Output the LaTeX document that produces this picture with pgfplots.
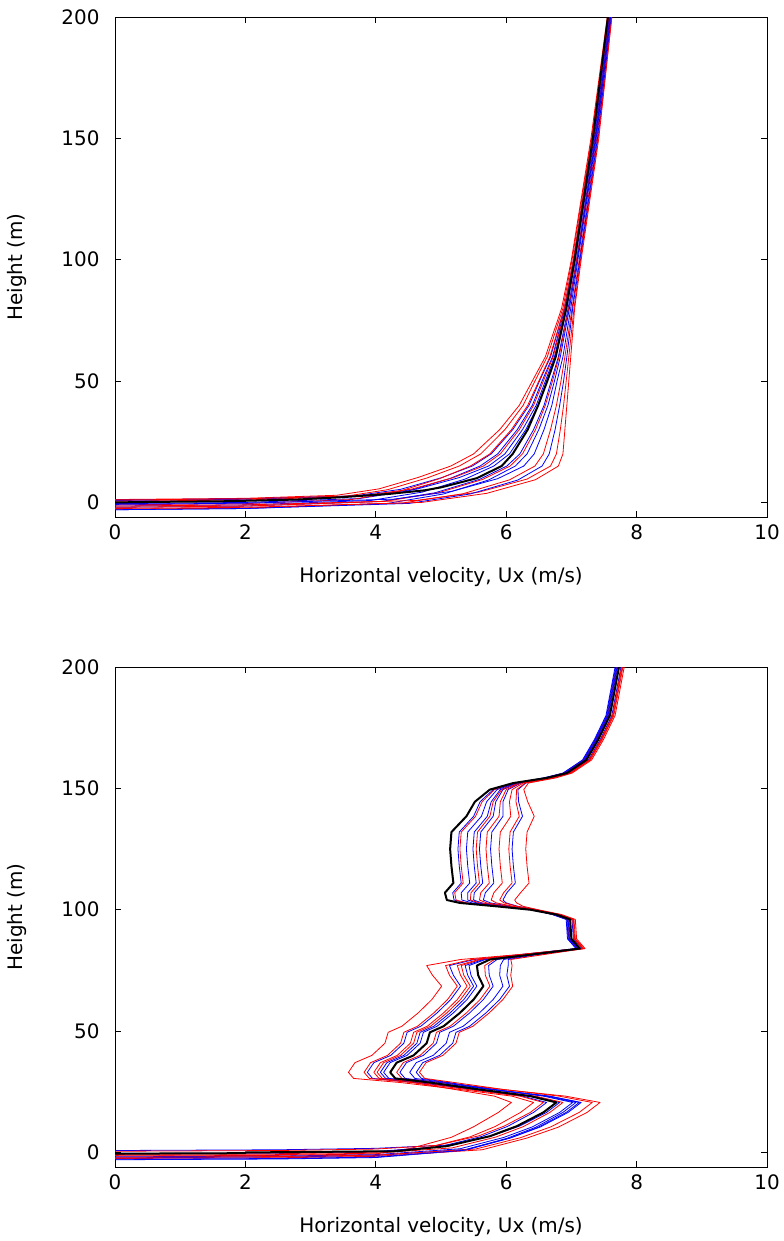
\documentclass[border=0pt]{standalone}
\usepackage{fontspec}
\setmainfont{DejaVu Sans}
\usepackage{pgfplots}
\pgfplotsset{compat=1.18}
\pgfplotsset{
  panel/.style={
    width=652bp, height=500bp, scale only axis,
    xmin=0, xmax=10, ymin=-6, ymax=200,
    xtick={0,2,...,10}, ytick={0,50,...,200},
    tick align=inside, major tick length=6bp,
    axis line style={line width=0.8bp},
    every tick/.style={black, line width=0.8bp},
    /pgf/number format/assume math mode=true,
    tick label style={font=\fontsize{20}{23}\selectfont},
    label style={font=\fontsize{20}{23}\selectfont},
    xticklabel style={yshift=-4bp},
    yticklabel style={xshift=-12bp},
    xlabel={Horizontal velocity, Ux (m/s)},
    ylabel={Height (m)},
    xlabel style={at={([yshift=-60bp]rel axis cs:0.5,0)}, anchor=center},
    ylabel style={at={([xshift=-98bp]rel axis cs:0,0.5)}, anchor=center},
    clip=true,
  },
  rl/.style={draw=red, line width=0.8bp, mark=none, line join=round},
  bl/.style={draw=blue, line width=0.8bp, mark=none, line join=round},
  kl/.style={draw=black, line width=2bp, mark=none, line join=round},
}
\begin{document}
\begin{tikzpicture}
\path[use as bounding box] (0,0) rectangle (784bp,-1241bp);
% ---------------- top panel ----------------
\begin{axis}[panel, at={(115bp,-517bp)}, anchor=south west]
\addplot[bl] coordinates {(0,0.8)(2,1.3)(3.66,2.64)(4.38,5.4)(5.01,10.2)(5.48,15)(5.77,20)(6.10,30)(6.35,40)(6.51,50)(6.68,60)(6.89,80)(7.03,100)(7.32,150)(7.56,200)};
\addplot[rl] coordinates {(0,1.2)(2,1.7)(3.40,2.96)(4.05,5.6)(4.65,10.3)(5.15,15)(5.50,20)(5.90,30)(6.20,40)(6.40,50)(6.60,60)(6.85,80)(7.00,100)(7.30,150)(7.55,200)};
\addplot[bl] coordinates {(0,-0.5)(2,0)(3.75,1.6)(4.50,4.75)(5.14,9.88)(5.60,15)(5.87,20)(6.17,30)(6.40,40)(6.55,50)(6.71,60)(6.90,80)(7.04,100)(7.33,150)(7.57,200)};
\addplot[rl] coordinates {(0,0.5)(2,1.0)(3.50,2.4)(4.18,5.25)(4.79,10.13)(5.28,15)(5.61,20)(5.98,30)(6.26,40)(6.44,50)(6.63,60)(6.87,80)(7.01,100)(7.31,150)(7.56,200)};
\addplot[bl] coordinates {(0,1)(2,1.5)(3.86,2.8)(4.63,5.5)(5.28,10.25)(5.73,15)(5.98,20)(6.25,30)(6.46,40)(6.60,50)(6.74,60)(6.92,80)(7.05,100)(7.34,150)(7.57,200)};
\addplot[rl] coordinates {(0,-1)(2,-0.5)(3.63,1.2)(4.35,4.5)(4.97,9.75)(5.45,15)(5.75,20)(6.08,30)(6.33,40)(6.50,50)(6.67,60)(6.89,80)(7.03,100)(7.32,150)(7.56,200)};
\addplot[bl] coordinates {(0,-1.5)(2,-1.0)(3.92,0.8)(4.71,4.25)(5.37,9.63)(5.81,15)(6.05,20)(6.30,30)(6.49,40)(6.62,50)(6.76,60)(6.93,80)(7.06,100)(7.35,150)(7.58,200)};
\addplot[rl] coordinates {(0,1)(2,1.5)(3.79,2.8)(4.55,5.5)(5.19,10.25)(5.65,15)(5.91,20)(6.20,30)(6.42,40)(6.57,50)(6.72,60)(6.91,80)(7.05,100)(7.34,150)(7.57,200)};
\addplot[bl] coordinates {(0,-2)(2,-1.5)(4.08,0.4)(4.91,4)(5.59,9.5)(6.01,15)(6.21,20)(6.42,30)(6.58,40)(6.69,50)(6.80,60)(6.95,80)(7.08,100)(7.36,150)(7.59,200)};
\addplot[rl] coordinates {(0,-2)(2,-1.5)(4.12,0.4)(4.96,4)(5.64,9.5)(6.06,15)(6.25,20)(6.45,30)(6.60,40)(6.71,50)(6.81,60)(6.96,80)(7.08,100)(7.37,150)(7.59,200)};
\addplot[bl] coordinates {(0,-3)(2,-2.5)(4.18,-0.4)(5.04,3.5)(5.73,9.25)(6.14,15)(6.32,20)(6.50,30)(6.64,40)(6.74,50)(6.83,60)(6.97,80)(7.09,100)(7.37,150)(7.59,200)};
\addplot[rl] coordinates {(0,-2.8)(2,-2.3)(4.41,-0.24)(5.34,3.6)(6.05,9.3)(6.44,15)(6.57,20)(6.68,30)(6.77,40)(6.84,50)(6.90,60)(7.01,80)(7.12,100)(7.39,150)(7.60,200)};
\addplot[bl] coordinates {(0,-0.8)(2,-0.3)(4.28,1.36)(5.17,4.6)(5.87,9.8)(6.27,15)(6.43,20)(6.58,30)(6.70,40)(6.78,50)(6.87,60)(6.99,80)(7.10,100)(7.38,150)(7.60,200)};
\addplot[rl] coordinates {(0,-1.5)(2,-1.0)(4.61,0.8)(5.58,4.25)(6.32,9.63)(6.68,15)(6.77,20)(6.83,30)(6.88,40)(6.92,50)(6.96,60)(7.04,80)(7.14,100)(7.41,150)(7.62,200)};
\addplot[bl] coordinates {(0,-3)(2,-2.5)(4.51,-0.4)(5.45,3.5)(6.18,9.25)(6.55,15)(6.66,20)(6.75,30)(6.82,40)(6.88,50)(6.93,60)(7.02,80)(7.13,100)(7.40,150)(7.61,200)};
\addplot[rl] coordinates {(0,-2.5)(2,-2.0)(4.70,0)(5.70,3.75)(6.45,9.38)(6.80,15)(6.87,20)(6.90,30)(6.93,40)(6.96,50)(6.99,60)(7.05,80)(7.15,100)(7.42,150)(7.62,200)};
\addplot[kl] coordinates {(0,0)(0.5,0.2)(1.7,0.5)(2.8,1.2)(3.5,2.2)(4.2,3.5)(4.75,5)(5.0,6.2)(5.55,10)(5.93,15)(6.1,20)(6.33,30)(6.49,40)(6.63,50)(6.76,60)(6.92,80)(7.05,100)(7.33,150)(7.56,200)};
\end{axis}
% ---------------- bottom panel ----------------
\begin{axis}[panel, at={(115bp,-1167bp)}, anchor=south west]
\addplot[bl] coordinates {(0,-3)(2.5,-2.7)(4,-2.1)(5.33,0.8)(6.01,5.8)(6.45,10.35)(6.87,16.5)(7.07,20.6)(6.61,23.2)(5.81,25.9)(5.07,28.8)(4.60,30.5)(4.52,33)(4.62,37)(4.88,40)(5.08,45)(5.13,49.5)(5.34,52)(5.59,57.5)(5.80,63)(5.95,68.5)(5.90,73)(5.91,77)(5.96,79.5)(6.41,81.5)(7.08,84)(6.95,88)(6.93,96)(6.72,98)(6.47,100)(6.18,101.4)(6.00,102.8)(5.95,104)(6.01,107)(6.14,111)(6.11,118)(6.09,125)(6.11,132)(6.25,138.5)(6.19,144.5)(6.18,149.5)(6.30,152.2)(6.62,154.3)(6.88,156.3)(7.18,161.7)(7.36,170)(7.54,180)(7.68,200)};
\addplot[rl] coordinates {(0,-1.5)(2.5,-1.2)(4,-0.6)(4.54,1.7)(5.16,6.25)(5.50,10.58)(5.88,16.5)(6.08,20.6)(5.82,23.2)(5.22,25.9)(4.57,28.8)(4.10,30.5)(4.02,33)(4.12,37)(4.38,40)(4.58,45)(4.63,49.5)(4.84,52)(5.09,57.5)(5.30,63)(5.45,68.5)(5.35,73)(5.31,77)(5.61,79.5)(6.36,81.5)(7.18,84)(7.05,88)(7.03,96)(6.82,98)(6.46,100)(6.17,101.4)(5.97,102.8)(5.90,104)(5.96,107)(6.09,111)(6.06,118)(6.04,125)(6.06,132)(6.20,138.5)(6.15,144.5)(6.16,149.5)(6.29,152.2)(6.72,154.3)(6.98,156.3)(7.28,161.7)(7.46,170)(7.64,180)(7.78,200)};
\addplot[bl] coordinates {(0,-2.2)(2.5,-1.9)(4,-1.3)(5.39,1.28)(6.07,6.04)(6.52,10.47)(6.95,16.5)(7.15,20.6)(6.67,23.2)(5.77,25.9)(4.85,28.8)(4.20,30.5)(4.12,33)(4.22,37)(4.48,40)(4.68,45)(4.73,49.5)(4.94,52)(5.19,57.5)(5.40,63)(5.55,68.5)(5.46,73)(5.43,77)(5.68,79.5)(6.30,81.5)(7.09,84)(6.96,88)(6.94,96)(6.73,98)(6.42,100)(6.01,101.4)(5.63,102.8)(5.50,104)(5.51,107)(5.64,111)(5.61,118)(5.59,125)(5.61,132)(5.80,138.5)(5.84,144.5)(5.95,149.5)(6.20,152.2)(6.60,154.3)(6.89,156.3)(7.19,161.7)(7.37,170)(7.55,180)(7.69,200)};
\addplot[rl] coordinates {(0,-2.5)(2.5,-2.2)(4,-1.6)(5.63,1.1)(6.32,5.95)(6.80,10.43)(7.24,16.5)(7.44,20.6)(6.91,23.2)(5.96,25.9)(5.02,28.8)(4.40,30.5)(4.32,33)(4.42,37)(4.68,40)(4.88,45)(4.93,49.5)(5.14,52)(5.39,57.5)(5.60,63)(5.75,68.5)(5.68,73)(5.67,77)(5.82,79.5)(6.48,81.5)(7.21,84)(7.08,88)(7.06,96)(6.85,98)(6.49,100)(6.26,101.4)(6.16,102.8)(6.13,104)(6.22,107)(6.35,111)(6.32,118)(6.30,125)(6.32,132)(6.43,138.5)(6.33,144.5)(6.27,149.5)(6.34,152.2)(6.76,154.3)(7.01,156.3)(7.31,161.7)(7.49,170)(7.67,180)(7.81,200)};
\addplot[bl] coordinates {(0,0.8)(2.5,1.1)(4,1.7)(5.13,3.08)(5.79,6.94)(6.21,10.92)(6.62,16.5)(6.82,20.6)(6.41,23.2)(5.56,25.9)(4.63,28.8)(3.95,30.5)(3.87,33)(3.97,37)(4.23,40)(4.43,45)(4.48,49.5)(4.69,52)(4.94,57.5)(5.15,63)(5.30,68.5)(5.19,73)(5.13,77)(5.51,79.5)(6.21,81.5)(7.07,84)(6.94,88)(6.92,96)(6.71,98)(6.38,100)(5.89,101.4)(5.38,102.8)(5.20,104)(5.18,107)(5.31,111)(5.28,118)(5.26,125)(5.28,132)(5.50,138.5)(5.60,144.5)(5.80,149.5)(6.13,152.2)(6.57,154.3)(6.87,156.3)(7.17,161.7)(7.35,170)(7.53,180)(7.67,200)};
\addplot[rl] coordinates {(0,-0.8)(2.5,-0.5)(4,0.1)(4.81,2.12)(5.45,6.46)(5.83,10.68)(6.22,16.5)(6.42,20.6)(6.09,23.2)(5.30,25.9)(4.38,28.8)(3.66,30.5)(3.58,33)(3.68,37)(3.94,40)(4.14,45)(4.19,49.5)(4.40,52)(4.65,57.5)(4.86,63)(5.01,68.5)(4.87,73)(4.78,77)(5.30,79.5)(6.18,81.5)(7.13,84)(7.00,88)(6.98,96)(6.77,98)(6.39,100)(5.90,101.4)(5.40,102.8)(5.23,104)(5.21,107)(5.34,111)(5.31,118)(5.29,125)(5.31,132)(5.53,138.5)(5.63,144.5)(5.82,149.5)(6.14,152.2)(6.63,154.3)(6.93,156.3)(7.23,161.7)(7.41,170)(7.59,180)(7.73,200)};
\addplot[bl] coordinates {(0,-1.8)(2.5,-1.5)(4,-0.9)(5.29,1.52)(5.96,6.16)(6.40,10.53)(6.82,16.5)(7.02,20.6)(6.57,23.2)(5.81,25.9)(5.12,28.8)(4.70,30.5)(4.62,33)(4.72,37)(4.98,40)(5.18,45)(5.23,49.5)(5.44,52)(5.69,57.5)(5.90,63)(6.05,68.5)(6.01,73)(6.03,77)(6.03,79.5)(6.47,81.5)(7.11,84)(6.98,88)(6.96,96)(6.75,98)(6.43,100)(6.07,101.4)(5.76,102.8)(5.65,104)(5.68,107)(5.81,111)(5.78,118)(5.76,125)(5.78,132)(5.95,138.5)(5.95,144.5)(6.03,149.5)(6.23,152.2)(6.63,154.3)(6.91,156.3)(7.21,161.7)(7.39,170)(7.57,180)(7.71,200)};
\addplot[rl] coordinates {(0,-2)(2.5,-1.7)(4,-1.1)(5.53,1.4)(6.22,6.1)(6.68,10.5)(7.12,16.5)(7.32,20.6)(6.81,23.2)(5.97,25.9)(5.21,28.8)(4.75,30.5)(4.67,33)(4.77,37)(5.03,40)(5.23,45)(5.28,49.5)(5.49,52)(5.74,57.5)(5.95,63)(6.10,68.5)(6.07,73)(6.09,77)(6.07,79.5)(6.57,81.5)(7.19,84)(7.06,88)(7.04,96)(6.83,98)(6.43,100)(6.04,101.4)(5.70,102.8)(5.59,104)(5.61,107)(5.74,111)(5.71,118)(5.69,125)(5.71,132)(5.89,138.5)(5.91,144.5)(6.00,149.5)(6.22,152.2)(6.71,154.3)(6.99,156.3)(7.29,161.7)(7.47,170)(7.65,180)(7.79,200)};
\addplot[bl] coordinates {(0,-0.5)(2.5,-0.2)(4,0.4)(4.97,2.3)(5.62,6.55)(6.02,10.73)(6.42,16.5)(6.62,20.6)(6.25,23.2)(5.50,25.9)(4.71,28.8)(4.15,30.5)(4.07,33)(4.17,37)(4.43,40)(4.63,45)(4.68,49.5)(4.89,52)(5.14,57.5)(5.35,63)(5.50,68.5)(5.41,73)(5.37,77)(5.65,79.5)(6.36,81.5)(7.16,84)(7.03,88)(7.01,96)(6.80,98)(6.41,100)(5.97,101.4)(5.55,102.8)(5.41,104)(5.41,107)(5.54,111)(5.51,118)(5.49,125)(5.51,132)(5.71,138.5)(5.77,144.5)(5.91,149.5)(6.18,152.2)(6.67,154.3)(6.96,156.3)(7.26,161.7)(7.44,170)(7.62,180)(7.76,200)};
\addplot[rl] coordinates {(0,0.5)(2.5,0.8)(4,1.4)(4.93,2.9)(5.58,6.85)(5.97,10.88)(6.37,16.5)(6.57,20.6)(6.21,23.2)(5.42,25.9)(4.55,28.8)(3.90,30.5)(3.82,33)(3.92,37)(4.18,40)(4.38,45)(4.43,49.5)(4.64,52)(4.89,57.5)(5.10,63)(5.25,68.5)(5.13,73)(5.07,77)(5.47,79.5)(6.22,81.5)(7.10,84)(6.97,88)(6.95,96)(6.74,98)(6.41,100)(5.99,101.4)(5.59,102.8)(5.45,104)(5.46,107)(5.59,111)(5.56,118)(5.54,125)(5.56,132)(5.75,138.5)(5.80,144.5)(5.93,149.5)(6.19,152.2)(6.61,154.3)(6.90,156.3)(7.20,161.7)(7.38,170)(7.56,180)(7.70,200)};
\addplot[bl] coordinates {(0,-2.8)(2.5,-2.5)(4,-1.9)(5.37,0.92)(6.05,5.86)(6.49,10.38)(6.92,16.5)(7.12,20.6)(6.65,23.2)(5.81,25.9)(4.99,28.8)(4.45,30.5)(4.37,33)(4.47,37)(4.73,40)(4.93,45)(4.98,49.5)(5.19,52)(5.44,57.5)(5.65,63)(5.80,68.5)(5.74,73)(5.73,77)(5.86,79.5)(6.39,81.5)(7.10,84)(6.97,88)(6.95,96)(6.74,98)(6.40,100)(5.94,101.4)(5.48,102.8)(5.32,104)(5.31,107)(5.44,111)(5.41,118)(5.39,125)(5.41,132)(5.62,138.5)(5.70,144.5)(5.86,149.5)(6.16,152.2)(6.60,154.3)(6.90,156.3)(7.20,161.7)(7.38,170)(7.56,180)(7.70,200)};
\addplot[rl] coordinates {(0,-1.2)(2.5,-0.9)(4,-0.3)(5.17,1.88)(5.84,6.34)(6.26,10.62)(6.67,16.5)(6.87,20.6)(6.45,23.2)(5.60,25.9)(4.70,28.8)(4.05,30.5)(3.97,33)(4.07,37)(4.33,40)(4.53,45)(4.58,49.5)(4.79,52)(5.04,57.5)(5.25,63)(5.40,68.5)(5.30,73)(5.25,77)(5.58,79.5)(6.34,81.5)(7.17,84)(7.04,88)(7.02,96)(6.81,98)(6.45,100)(6.11,101.4)(5.85,102.8)(5.77,104)(5.81,107)(5.94,111)(5.91,118)(5.89,125)(5.91,132)(6.07,138.5)(6.05,144.5)(6.09,149.5)(6.26,152.2)(6.70,154.3)(6.97,156.3)(7.27,161.7)(7.45,170)(7.63,180)(7.77,200)};
\addplot[kl] coordinates {(0,-0.5)(2,-0.3)(2,0)(4.3,0.5)(5.09,2.6)(5.75,6.7)(6.16,10.8)(6.57,16.5)(6.77,20.6)(6.37,23.2)(5.60,25.9)(4.83,28.8)(4.30,30.5)(4.22,33)(4.32,37)(4.58,40)(4.78,45)(4.83,49.5)(5.04,52)(5.29,57.5)(5.50,63)(5.65,68.5)(5.57,73)(5.55,77)(5.75,79.5)(6.37,81.5)(7.13,84)(7.00,88)(6.98,96)(6.77,98)(6.37,100)(5.85,101.4)(5.29,102.8)(5.09,104)(5.06,107)(5.19,111)(5.16,118)(5.14,125)(5.16,132)(5.39,138.5)(5.52,144.5)(5.75,149.5)(6.11,152.2)(6.62,154.3)(6.93,156.3)(7.23,161.7)(7.41,170)(7.59,180)(7.73,200)};
\end{axis}
\end{tikzpicture}
\end{document}
